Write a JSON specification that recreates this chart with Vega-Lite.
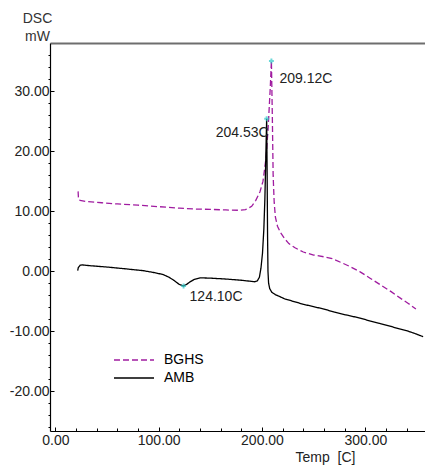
{
  "$schema": "https://vega.github.io/schema/vega-lite/v6.json",
  "width": 375,
  "height": 388,
  "autosize": {"type": "none"},
  "padding": {"left": 50, "top": 43, "right": 0, "bottom": 35},
  "background": "white",
  "config": {"view": {"stroke": null}, "font": "Liberation Sans"},
  "datasets": {
    "curves": [
      {"T": 22.0, "mW": 13.3, "series": "BGHS"},
      {"T": 22.4, "mW": 12.0, "series": "BGHS"},
      {"T": 24, "mW": 11.8, "series": "BGHS"},
      {"T": 30, "mW": 11.6, "series": "BGHS"},
      {"T": 45, "mW": 11.4, "series": "BGHS"},
      {"T": 60, "mW": 11.2, "series": "BGHS"},
      {"T": 80, "mW": 11.0, "series": "BGHS"},
      {"T": 100, "mW": 10.75, "series": "BGHS"},
      {"T": 120, "mW": 10.5, "series": "BGHS"},
      {"T": 135, "mW": 10.35, "series": "BGHS"},
      {"T": 150, "mW": 10.3, "series": "BGHS"},
      {"T": 165, "mW": 10.2, "series": "BGHS"},
      {"T": 178, "mW": 10.15, "series": "BGHS"},
      {"T": 184, "mW": 10.25, "series": "BGHS"},
      {"T": 190, "mW": 10.8, "series": "BGHS"},
      {"T": 194, "mW": 11.8, "series": "BGHS"},
      {"T": 198, "mW": 13.2, "series": "BGHS"},
      {"T": 201, "mW": 15, "series": "BGHS"},
      {"T": 204, "mW": 19, "series": "BGHS"},
      {"T": 206, "mW": 24, "series": "BGHS"},
      {"T": 208, "mW": 30.5, "series": "BGHS"},
      {"T": 209.12, "mW": 35, "series": "BGHS"},
      {"T": 210.0, "mW": 26, "series": "BGHS"},
      {"T": 210.8, "mW": 16, "series": "BGHS"},
      {"T": 211.8, "mW": 11.5, "series": "BGHS"},
      {"T": 213, "mW": 9, "series": "BGHS"},
      {"T": 215, "mW": 7.5, "series": "BGHS"},
      {"T": 218, "mW": 6.4, "series": "BGHS"},
      {"T": 222, "mW": 5.4, "series": "BGHS"},
      {"T": 226, "mW": 4.6, "series": "BGHS"},
      {"T": 232, "mW": 3.9, "series": "BGHS"},
      {"T": 240, "mW": 3.2, "series": "BGHS"},
      {"T": 250, "mW": 2.7, "series": "BGHS"},
      {"T": 260, "mW": 2.4, "series": "BGHS"},
      {"T": 268, "mW": 2.1, "series": "BGHS"},
      {"T": 276, "mW": 1.5, "series": "BGHS"},
      {"T": 285, "mW": 0.8, "series": "BGHS"},
      {"T": 295, "mW": -0.1, "series": "BGHS"},
      {"T": 305, "mW": -1.2, "series": "BGHS"},
      {"T": 315, "mW": -2.3, "series": "BGHS"},
      {"T": 325, "mW": -3.4, "series": "BGHS"},
      {"T": 335, "mW": -4.6, "series": "BGHS"},
      {"T": 342, "mW": -5.4, "series": "BGHS"},
      {"T": 349, "mW": -6.3, "series": "BGHS"},
      {"T": 21.6, "mW": 0.1, "series": "AMB"},
      {"T": 22.2, "mW": 0.6, "series": "AMB"},
      {"T": 24, "mW": 1.0, "series": "AMB"},
      {"T": 26, "mW": 1.05, "series": "AMB"},
      {"T": 35, "mW": 0.9, "series": "AMB"},
      {"T": 50, "mW": 0.7, "series": "AMB"},
      {"T": 65, "mW": 0.45, "series": "AMB"},
      {"T": 85, "mW": 0.1, "series": "AMB"},
      {"T": 98, "mW": -0.3, "series": "AMB"},
      {"T": 105, "mW": -0.6, "series": "AMB"},
      {"T": 110, "mW": -1.0, "series": "AMB"},
      {"T": 115, "mW": -1.55, "series": "AMB"},
      {"T": 120, "mW": -2.2, "series": "AMB"},
      {"T": 124.1, "mW": -2.45, "series": "AMB"},
      {"T": 127, "mW": -2.2, "series": "AMB"},
      {"T": 130, "mW": -1.8, "series": "AMB"},
      {"T": 134, "mW": -1.4, "series": "AMB"},
      {"T": 140, "mW": -1.1, "series": "AMB"},
      {"T": 150, "mW": -1.15, "series": "AMB"},
      {"T": 165, "mW": -1.3, "series": "AMB"},
      {"T": 180, "mW": -1.5, "series": "AMB"},
      {"T": 193, "mW": -1.75, "series": "AMB"},
      {"T": 195.5, "mW": -1.6, "series": "AMB"},
      {"T": 197.5, "mW": -1.0, "series": "AMB"},
      {"T": 199, "mW": 0.5, "series": "AMB"},
      {"T": 200.5, "mW": 3, "series": "AMB"},
      {"T": 201.8, "mW": 7, "series": "AMB"},
      {"T": 202.8, "mW": 12, "series": "AMB"},
      {"T": 203.7, "mW": 19, "series": "AMB"},
      {"T": 204.53, "mW": 25.4, "series": "AMB"},
      {"T": 205.0, "mW": 16, "series": "AMB"},
      {"T": 205.4, "mW": 6, "series": "AMB"},
      {"T": 205.8, "mW": 0, "series": "AMB"},
      {"T": 206.4, "mW": -2.0, "series": "AMB"},
      {"T": 207.5, "mW": -2.9, "series": "AMB"},
      {"T": 209.5, "mW": -3.5, "series": "AMB"},
      {"T": 213, "mW": -3.9, "series": "AMB"},
      {"T": 217, "mW": -4.2, "series": "AMB"},
      {"T": 222, "mW": -4.6, "series": "AMB"},
      {"T": 230, "mW": -5.0, "series": "AMB"},
      {"T": 240, "mW": -5.5, "series": "AMB"},
      {"T": 250, "mW": -5.9, "series": "AMB"},
      {"T": 260, "mW": -6.3, "series": "AMB"},
      {"T": 270, "mW": -6.8, "series": "AMB"},
      {"T": 282, "mW": -7.3, "series": "AMB"},
      {"T": 295, "mW": -7.8, "series": "AMB"},
      {"T": 305, "mW": -8.3, "series": "AMB"},
      {"T": 314, "mW": -8.7, "series": "AMB"},
      {"T": 325, "mW": -9.2, "series": "AMB"},
      {"T": 333, "mW": -9.6, "series": "AMB"},
      {"T": 340, "mW": -9.9, "series": "AMB"},
      {"T": 347, "mW": -10.3, "series": "AMB"},
      {"T": 356, "mW": -10.9, "series": "AMB"}
    ],
    "peaks": [
      {"T": 209.12, "mW": 35.0, "label": "209.12C"},
      {"T": 204.53, "mW": 25.4, "label": "204.53C"},
      {"T": 124.1, "mW": -2.45, "label": "124.10C"}
    ]
  },
  "layer": [
    {
      "data": {"name": "curves"},
      "mark": {"type": "line", "strokeWidth": 1.3},
      "encoding": {
        "x": {
          "field": "T", "type": "quantitative",
          "scale": {"domain": [-5.2, 357.8], "nice": false, "zero": false},
          "axis": {
            "orient": "bottom",
            "values": [0, 100, 200, 300],
            "format": ".2f",
            "tickSize": -4, "tickColor": "#000", "domainColor": "#000", "domainWidth": 1.2,
            "labelPadding": 6, "labelFontSize": 14, "labelColor": "#222",
            "labelFlush": false, "labelOverlap": false, "grid": false,
            "title": "Temp\u00a0 [C]", "titleFontSize": 14, "titleFontWeight": "normal", "titleColor": "#222",
            "titleX": 275, "titleY": 19, "titleBaseline": "top", "titleAlign": "center"
          }
        },
        "y": {
          "field": "mW", "type": "quantitative",
          "scale": {"domain": [-26.6, 38.0], "nice": false, "zero": false},
          "axis": {
            "orient": "left",
            "values": [-20, -10, 0, 10, 20, 30],
            "labelExpr": "(datum.value < 0 ? '-' : '') + format(abs(datum.value), '.2f')",
            "tickSize": -4, "tickColor": "#000", "domainColor": "#000", "domainWidth": 1.2,
            "labelPadding": 5, "labelFontSize": 14, "labelColor": "#222",
            "labelFlush": false, "labelOverlap": false, "grid": false,
            "title": ["DSC", "mW"], "titleAngle": 0, "titleFontSize": 14, "titleFontWeight": "normal", "titleColor": "#333",
            "titleX": -13, "titleY": -32, "titleAlign": "center", "titleBaseline": "top", "titleLineHeight": 18
          }
        },
        "color": {
          "field": "series", "type": "nominal",
          "scale": {"domain": ["BGHS", "AMB"], "range": ["#a01ca0", "#000000"]},
          "legend": {
            "orient": "none", "legendX": 77, "legendY": 310, "title": null,
            "symbolType": "M-4,0H4", "symbolSize": 100, "symbolStrokeWidth": 1.4,
            "labelFontSize": 14, "labelColor": "#000", "labelOffset": 23, "rowPadding": 4, "padding": 0
          }
        },
        "strokeDash": {
          "field": "series", "type": "nominal",
          "scale": {"domain": ["BGHS", "AMB"], "range": [[6, 3], [1, 0]]},
          "legend": {
            "orient": "none", "legendX": 77, "legendY": 310, "title": null,
            "symbolType": "M-4,0H4", "symbolSize": 100, "symbolStrokeWidth": 1.4,
            "labelFontSize": 14, "labelColor": "#000", "labelOffset": 23, "rowPadding": 4, "padding": 0
          }
        }
      }
    },
    {
      "data": {"name": "peaks"},
      "mark": {"type": "point", "shape": "cross", "filled": true, "size": 24, "color": "#2cc8c8"},
      "encoding": {
        "x": {"field": "T", "type": "quantitative", "axis": {"orient": "top", "labels": false, "ticks": false, "domainColor": "#6e6e6e", "domainWidth": 2, "title": null, "grid": false}},
        "y": {"field": "mW", "type": "quantitative", "axis": {"orient": "left", "values": [-26, -24, -22, -18, -16, -14, -12, -8, -6, -4, -2, 2, 4, 6, 8, 12, 14, 16, 18, 22, 24, 26, 28, 32, 34, 36], "labels": false, "domain": false, "tickSize": 2, "tickColor": "#000", "title": null, "grid": false}}
      }
    },
    {
      "data": {"name": "peaks"},
      "transform": [{"filter": "datum.label === '209.12C'"}],
      "mark": {"type": "text", "align": "left", "baseline": "middle", "dx": 8, "dy": 18, "fontSize": 14, "color": "#222"},
      "encoding": {
        "x": {"field": "T", "type": "quantitative", "axis": {"orient": "bottom", "values": [20, 40, 60, 80, 120, 140, 160, 180, 220, 240, 260, 280, 320, 340], "labels": false, "domain": false, "tickSize": -3, "tickColor": "#000", "title": null, "grid": false}},
        "y": {"field": "mW", "type": "quantitative", "axis": null},
        "text": {"field": "label"}
      }
    },
    {
      "data": {"name": "peaks"},
      "transform": [{"filter": "datum.label === '204.53C'"}],
      "mark": {"type": "text", "align": "right", "baseline": "middle", "dx": 2, "dy": 14, "fontSize": 14, "color": "#222"},
      "encoding": {
        "x": {"field": "T", "type": "quantitative", "axis": null},
        "y": {"field": "mW", "type": "quantitative", "axis": null},
        "text": {"field": "label"}
      }
    },
    {
      "data": {"name": "peaks"},
      "transform": [{"filter": "datum.label === '124.10C'"}],
      "mark": {"type": "text", "align": "left", "baseline": "middle", "dx": 6, "dy": 11, "fontSize": 14, "color": "#222"},
      "encoding": {
        "x": {"field": "T", "type": "quantitative", "axis": null},
        "y": {"field": "mW", "type": "quantitative", "axis": null},
        "text": {"field": "label"}
      }
    }
  ],
  "resolve": {"axis": {"x": "independent", "y": "independent"}}
}
